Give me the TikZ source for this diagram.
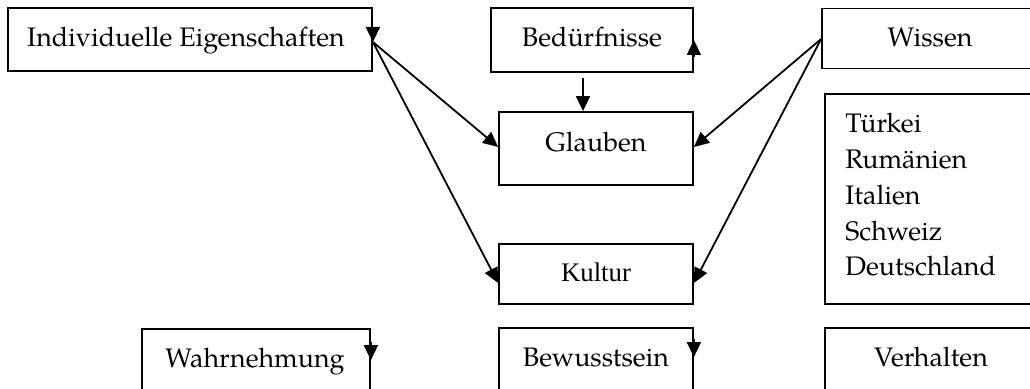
\documentclass[tikz,border=0pt]{standalone}
\usepackage{fontspec}
\setmainfont{TeX Gyre Pagella}
\newfontfamily\timesfont{Liberation Serif}
\usetikzlibrary{arrows.meta}
\begin{document}
\begin{tikzpicture}[x=0.5pt,y=-0.5pt,
  box/.style={draw, line width=0.9pt, rectangle, inner sep=0pt},
  lbl/.style={inner sep=0pt, anchor=base, font=\fontsize{13.4pt}{16pt}\selectfont},
  arr/.style={line width=0.9pt, -{Triangle[length=7.5pt,width=7pt]}}]
\useasboundingbox (0,0) rectangle (1030,389);
\clip (0,0) rectangle (1030,389);
% boxes
\node[box, minimum width=182pt, minimum height=31.5pt] (IE) at (190,39.5) {};
\node[box, minimum width=101pt, minimum height=32pt] (BE) at (592,40) {};
\node[box, minimum width=109pt, minimum height=30pt] (WI) at (931,38.5) {};
\node[box, minimum width=97pt, minimum height=36.5pt] (GL) at (596,148.5) {};
\node[box, minimum width=107.5pt, minimum height=105pt] (LA) at (932.5,199) {};
\node[box, minimum width=97pt, minimum height=30pt] (KU) at (596,274) {};
\node[box, minimum width=114pt, minimum height=36pt] (WA) at (256,365) {};
\node[box, minimum width=97pt, minimum height=36pt] (BW) at (596,364) {};
\node[box, minimum width=107.5pt, minimum height=36pt] (VE) at (932.5,364) {};
% texts
\node[lbl] (tIE) at (186,47) {Individuelle Eigenschaften};
\node[lbl] (tBE) at (592,47) {Bedürfnisse};
\node[lbl] (tWI) at (930,47) {Wissen};
\node[lbl] (tGL) at (596,152) {Glauben};
\node[lbl] (tKU) at (596,282) {\timesfont Kultur};
\node[lbl] (tWA) at (255,368) {Wahrnehmung};
\node[lbl] (tBW) at (596,367) {Bewusstsein};
\node[lbl] (tVE) at (931,367) {Verhalten};
\node[lbl, anchor=base west, align=left, font=\fontsize{13.4pt}{17.9pt}\selectfont] (tLA) at (845,276)
  {Türkei\\Rumänien\\Italien\\Schweiz\\Deutschland};
% connector points
\coordinate (ieP) at ([yshift=-1.25pt]IE.east);
\coordinate (glW) at ([yshift=0.75pt]GL.west);
\coordinate (glE) at ([yshift=0.75pt]GL.east);
\coordinate (kuW) at ([yshift=-4.5pt]KU.west);
\coordinate (kuE) at ([yshift=-4.5pt]KU.east);
\coordinate (wiP) at ([yshift=-0.25pt]WI.west);
% connectors
\draw[arr] ([yshift=7pt]ieP) -- (ieP);
\draw[arr] (ieP) -- (glW);
\draw[arr] (ieP) -- (kuW);
\draw[arr] ([xshift=-4.5pt,yshift=-2.5pt]BE.south) -- ([xshift=-6.5pt]GL.north);
\draw[arr] ([yshift=-8.5pt]BE.east) -- (BE.east);
\draw[arr] (wiP) -- (glE);
\draw[arr] (wiP) -- (kuE);
\draw[arr] ([yshift=-7pt]WA.north east) -- ([yshift=-16pt]WA.north east);
\draw[arr] ([yshift=-6pt]BW.north east) -- ([yshift=-15pt]BW.north east);
\end{tikzpicture}
\end{document}
